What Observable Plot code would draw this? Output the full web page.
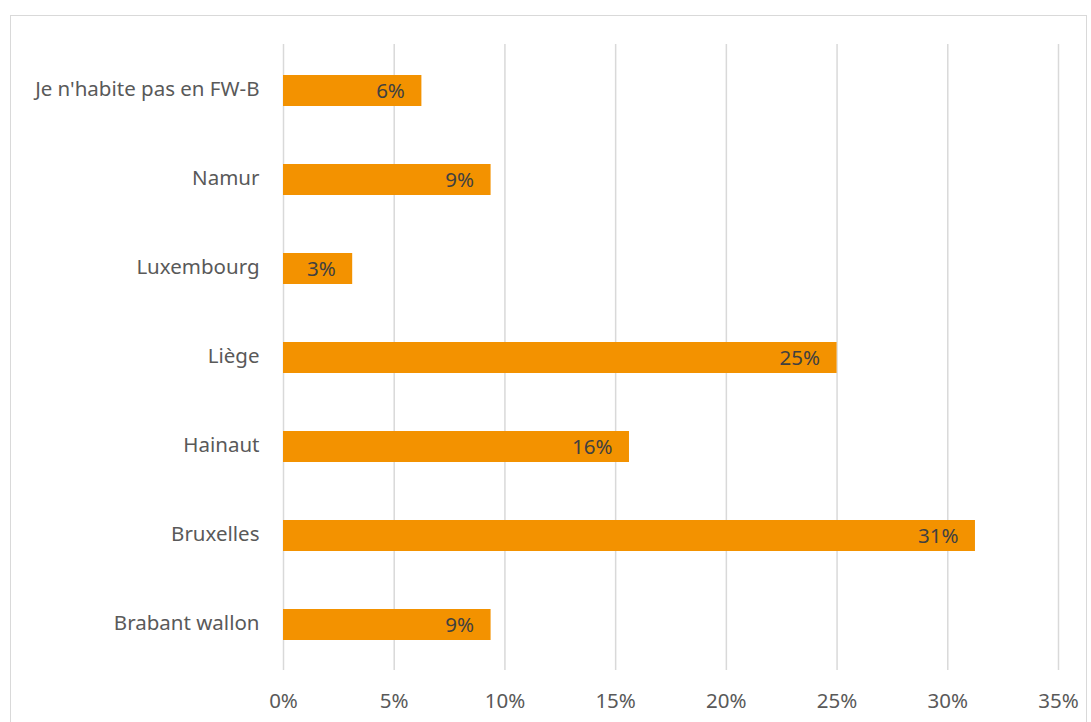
<!DOCTYPE html>
<html>
<head>
<meta charset="utf-8">
<script src="https://cdn.jsdelivr.net/npm/d3@7"></script>
<script src="https://cdn.jsdelivr.net/npm/@observablehq/plot@0.6"></script>
<style>
  html, body { margin: 0; padding: 0; background: #fff; }
  #wrap { position: relative; width: 1091px; height: 722px; overflow: hidden; }
  #border { position: absolute; left: 10px; top: 15px; width: 1077px; height: 740px; border: 1px solid #d9d9d9; box-sizing: border-box; pointer-events: none; }
  #chart { position: absolute; left: 0; top: 0; }
</style>
</head>
<body>
<div id="wrap"><div id="border"></div><div id="chart"></div></div>
<script>
const categories = ["Je n'habite pas en FW-B", "Namur", "Luxembourg", "Liège", "Hainaut", "Bruxelles", "Brabant wallon"];
const shares = [6.25, 9.375, 3.125, 25, 15.625, 31.25, 9.375];
const xTicks = [0, 5, 10, 15, 20, 25, 30, 35];

const data = categories.map((c, i) => ({category: c, value: shares[i]}));

const font = "'Noto Sans', 'Open Sans', sans-serif";
const fs = 20.5;
const chart = Plot.plot({
  width: 1091,
  height: 722,
  marginLeft: 283,
  marginRight: 33,
  marginTop: 44,
  marginBottom: 52,
  style: {fontFamily: font, fontSize: fs + "px", color: "#595959", background: "transparent"},
  x: {domain: [0, 35], ticks: xTicks, tickFormat: d => d + "%", label: null},
  y: {domain: categories, padding: 0, label: null},
  marks: [
    Plot.ruleX(xTicks, {stroke: "#d9d9d9", strokeWidth: 1.5, strokeOpacity: 1}),
    Plot.barX(data, {x: "value", y: "category", fill: "#f39200", insetTop: 29, insetBottom: 29}),
    Plot.text(data, {x: "value", y: "category", text: d => Math.round(d.value) + "%", textAnchor: "end", dx: -17, dy: 0, fill: "#404040", fontSize: fs}),
    Plot.axisX({ticks: xTicks, tickFormat: d => d + "%", tickSize: 0, tickPadding: 23, fontSize: fs, fill: "#595959", label: null}),
    Plot.axisY({tickSize: 0, tickPadding: 24, dy: -2, fontSize: fs, fill: "#595959", label: null})
  ]
});
document.getElementById("chart").appendChild(chart);
</script>
</body>
</html>
